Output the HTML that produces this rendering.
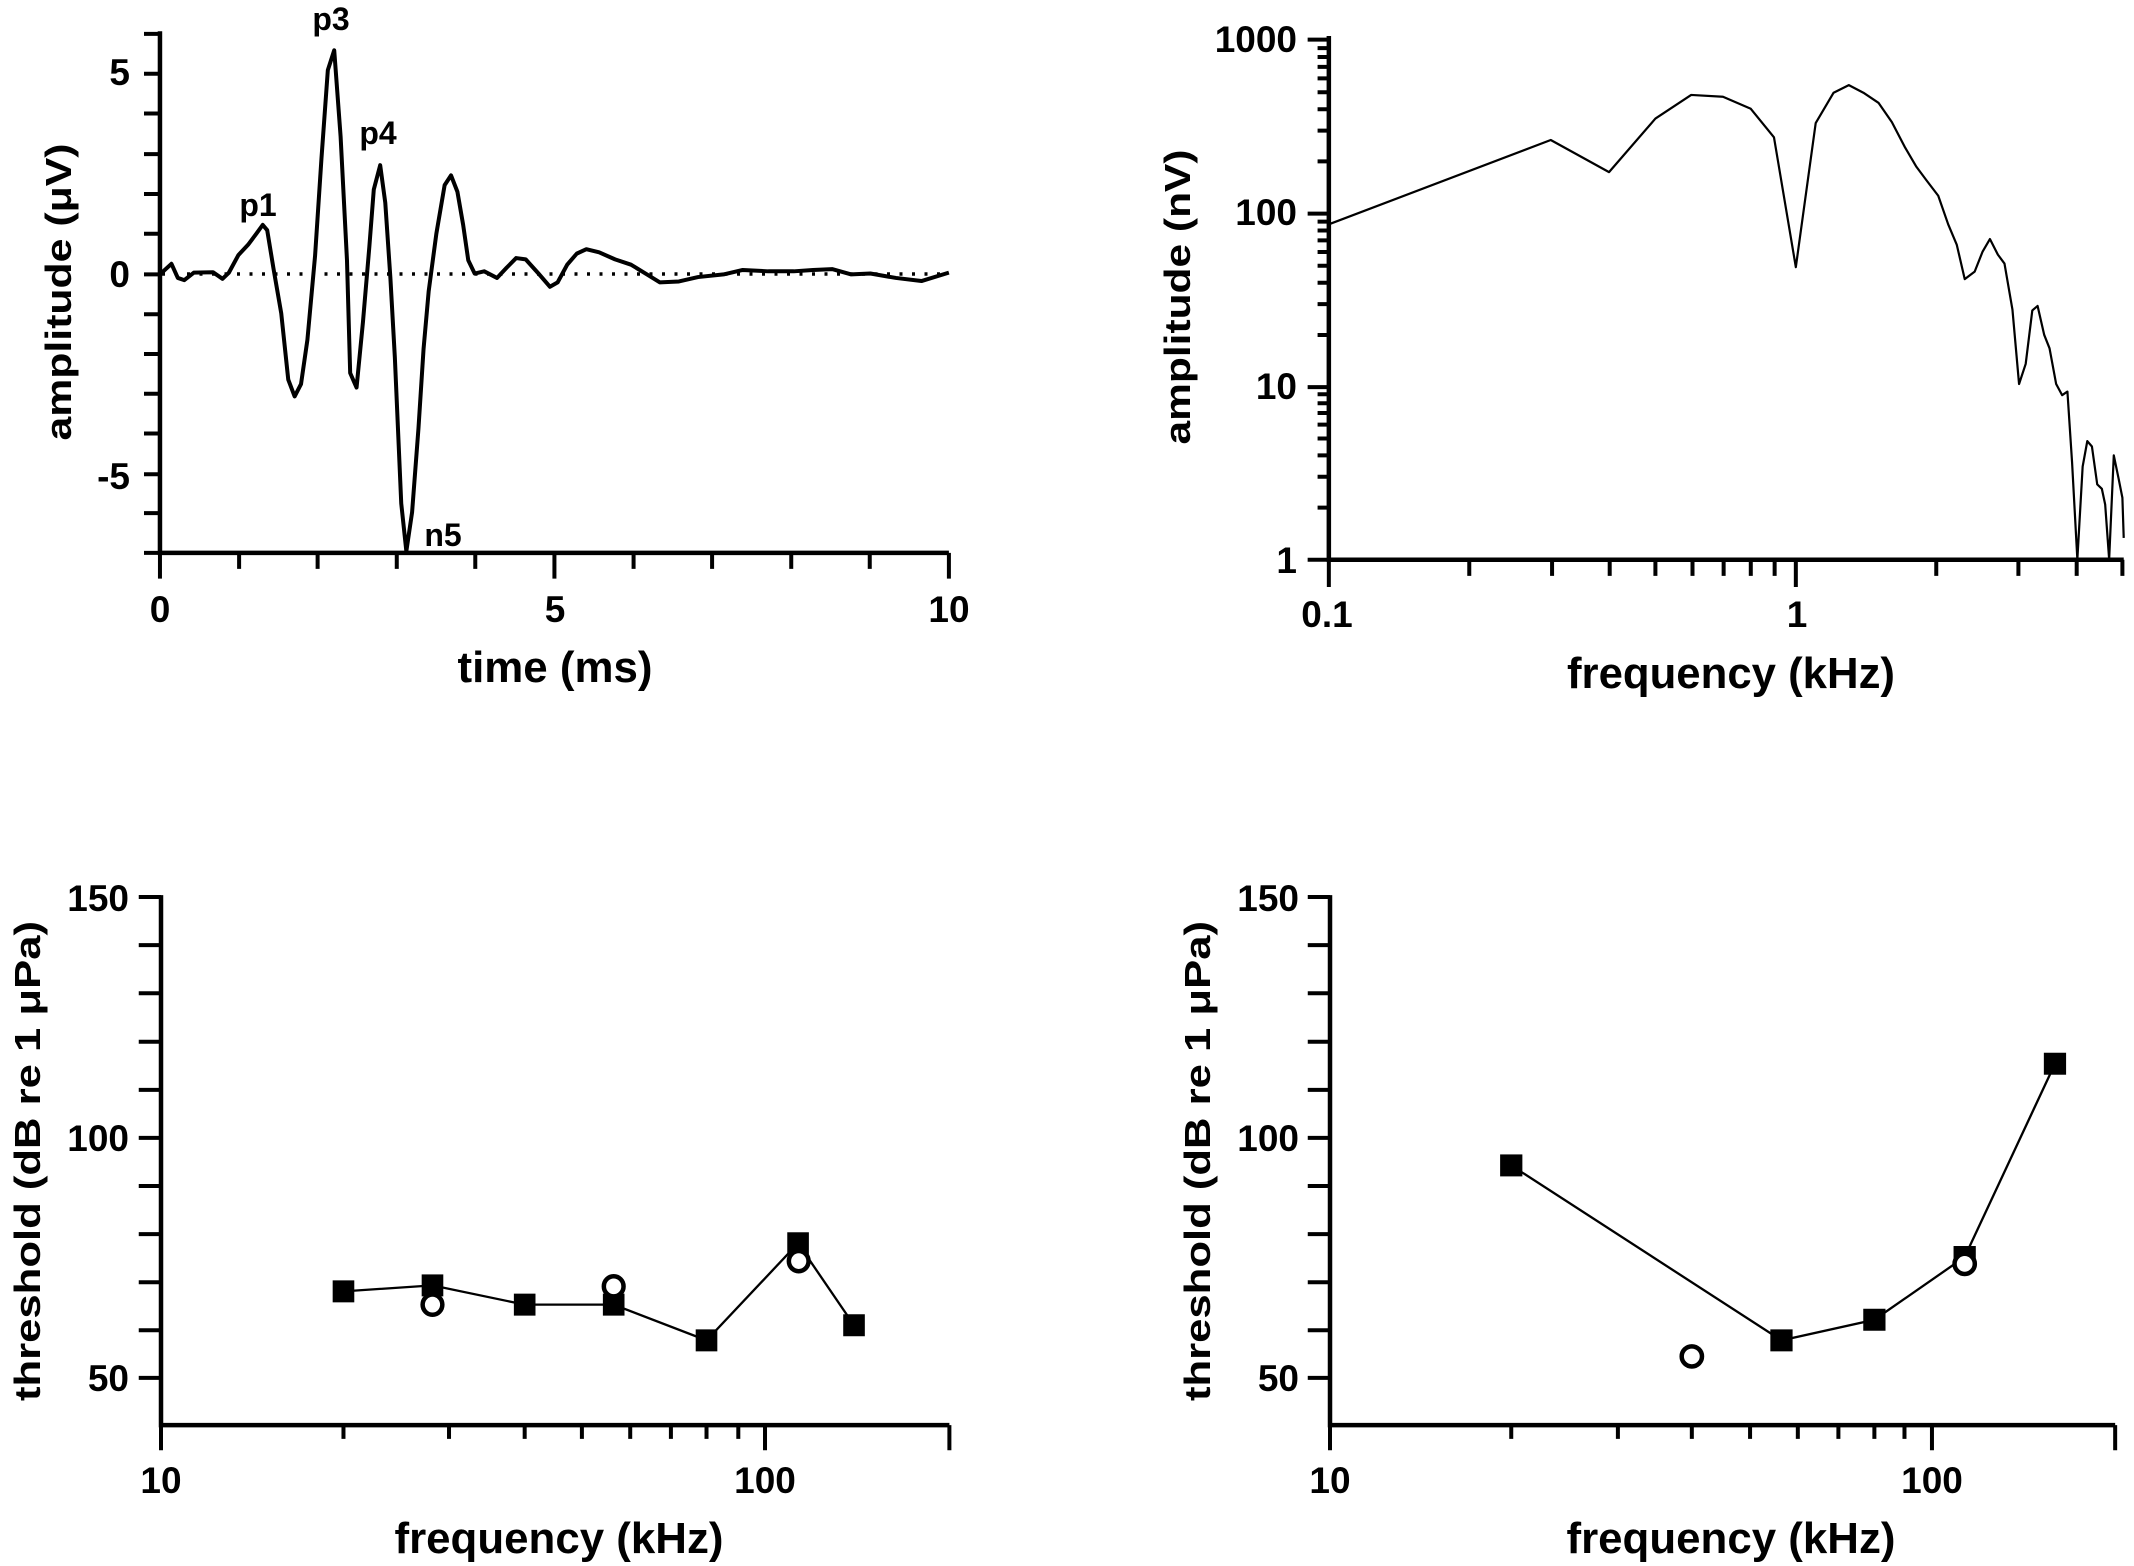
<!DOCTYPE html>
<html><head><meta charset="utf-8"><style>
html,body{margin:0;padding:0;background:#fff;}
svg{display:block;}
.t{font-family:"Liberation Sans",sans-serif;font-weight:bold;font-size:37px;fill:#000;}
.ti{font-family:"Liberation Sans",sans-serif;font-weight:bold;font-size:44px;fill:#000;}
.yl{font-family:"Liberation Sans",sans-serif;font-weight:bold;font-size:36px;fill:#000;}
.an{font-family:"Liberation Sans",sans-serif;font-weight:bold;font-size:32px;fill:#000;}
</style></head><body>
<svg width="2134" height="1566" viewBox="0 0 2134 1566" xmlns="http://www.w3.org/2000/svg">
<rect width="2134" height="1566" fill="#fff"/>

<!-- TOP LEFT -->
<g transform="translate(2.3,3.84) scale(0.6383,0.4421)" fill="none" stroke="#000">
 <path vector-effect="non-scaling-stroke" stroke-width="4.5" d="M247,62 V1242 H1483"/>
 <path vector-effect="non-scaling-stroke" stroke-width="4" d="M222,68H247 M222,158H247 M222,248H247 M222,340H247 M222,430H247 M222,520H247 M222,612H247 M222,702H247 M222,792H247 M222,882H247 M222,972H247 M222,1064H247 M222,1152H247 M222,1242H247
 M247,1242V1300 M371,1242V1278 M494,1242V1278 M618,1242V1278 M741,1242V1278 M865,1242V1300 M989,1242V1278 M1112,1242V1278 M1236,1242V1278 M1359,1242V1278 M1483,1242V1300"/>
 <polyline vector-effect="non-scaling-stroke" stroke-width="4" stroke-linejoin="round" points="247,612 265,588 275,620 285,625 300,608 330,607 345,622 355,608 370,568 385,545 398,520 408,500 415,512 425,600 437,700 448,850 458,888 468,860 478,760 490,570 500,350 510,150 520,105 530,300 540,580 545,835 555,868 565,720 575,550 582,420 592,365 600,450 608,620 615,800 625,1130 633,1238 642,1150 652,960 660,780 668,650 680,520 693,410 703,388 713,425 722,500 730,580 740,610 755,605 775,620 790,597 805,575 820,578 840,610 858,640 870,630 885,590 900,565 915,555 935,562 960,578 985,590 1010,612 1030,630 1060,628 1090,618 1130,612 1160,602 1200,605 1240,605 1270,602 1300,600 1330,612 1360,610 1400,620 1440,627 1483,608"/>
</g>
<line x1="162" y1="274" x2="949" y2="274" stroke="#000" stroke-width="3.5" stroke-dasharray="3 9.5"/>
<text class="t" x="130" y="85" text-anchor="end">5</text>
<text class="t" x="130" y="287" text-anchor="end">0</text>
<text class="t" x="130" y="489" text-anchor="end">-5</text>
<text class="t" x="160" y="622" text-anchor="middle">0</text>
<text class="t" x="555" y="622" text-anchor="middle">5</text>
<text class="t" x="949" y="622" text-anchor="middle">10</text>
<text class="ti" x="555" y="682" text-anchor="middle" textLength="195" lengthAdjust="spacingAndGlyphs">time (ms)</text>
<text class="yl" transform="translate(71,292) rotate(-90)" text-anchor="middle" textLength="297" lengthAdjust="spacingAndGlyphs">amplitude (μV)</text>
<text class="an" x="258" y="216" text-anchor="middle">p1</text>
<text class="an" x="331" y="30" text-anchor="middle">p3</text>
<text class="an" x="378" y="144" text-anchor="middle">p4</text>
<text class="an" x="443" y="546" text-anchor="middle">n5</text>

<!-- TOP RIGHT -->
<g transform="translate(1097,2.6) scale(0.6624,0.4461)" fill="none" stroke="#000">
 <path vector-effect="non-scaling-stroke" stroke-width="4.5" d="M350,75 V1249 H1550"/>
 <path vector-effect="non-scaling-stroke" stroke-width="4" d="M318,83H350 M318,473H350 M318,862H350 M318,1249H350
 M333,1132H350 M333,1063H350 M333,1015H350 M333,977H350 M333,946H350 M333,920H350 M333,898H350 M333,878H350
 M333,745H350 M333,676H350 M333,628H350 M333,590H350 M333,559H350 M333,533H350 M333,511H350 M333,491H350
 M333,356H350 M333,287H350 M333,239H350 M333,201H350 M333,170H350 M333,144H350 M333,122H350 M333,102H350
 M350,1249V1310 M1055,1249V1310 M562,1249V1285 M687,1249V1285 M774,1249V1285 M843,1249V1285 M899,1249V1285 M946,1249V1285 M987,1249V1285 M1023,1249V1285 M1267,1249V1285 M1391,1249V1285 M1479,1249V1285 M1548,1249V1285"/>
 <polyline vector-effect="non-scaling-stroke" stroke-width="2.2" stroke-linejoin="round" points="350,497 685,308 773,380 843,260 897,207 945,211 987,238 1022,302 1055,593 1085,270 1112,202 1135,185 1157,202 1180,225 1200,268 1220,325 1237,368 1252,398 1270,433 1285,497 1298,543 1310,620 1325,603 1337,558 1348,530 1360,565 1370,585 1382,688 1392,855 1402,810 1412,690 1420,680 1430,745 1438,775 1448,855 1457,880 1465,872 1472,1030 1480,1248 1488,1040 1495,983 1502,995 1510,1080 1517,1090 1522,1125 1528,1248 1535,1015 1542,1065 1548,1110 1550,1200"/>
</g>
<text class="t" x="1297" y="52" text-anchor="end">1000</text>
<text class="t" x="1297" y="225" text-anchor="end">100</text>
<text class="t" x="1297" y="399" text-anchor="end">10</text>
<text class="t" x="1297" y="573" text-anchor="end">1</text>
<text class="t" x="1327" y="627" text-anchor="middle">0.1</text>
<text class="t" x="1797" y="627" text-anchor="middle">1</text>
<text class="ti" x="1731" y="688" text-anchor="middle" textLength="328" lengthAdjust="spacingAndGlyphs">frequency (kHz)</text>
<text class="yl" transform="translate(1190,297) rotate(-90)" text-anchor="middle" textLength="295" lengthAdjust="spacingAndGlyphs">amplitude (nV)</text>

<!-- BOTTOM LEFT -->
<g transform="translate(2.05,850.3) scale(0.6358,0.458)" stroke="#000">
 <path fill="none" vector-effect="non-scaling-stroke" stroke-width="4.5" d="M250,98 V1255 H1490"/>
 <path fill="none" vector-effect="non-scaling-stroke" stroke-width="4" d="M215,102H250 M215,207H250 M215,312H250 M215,418H250 M215,523H250 M215,628H250 M215,733H250 M215,838H250 M215,943H250 M215,1048H250 M215,1152H250
 M250,1255V1310 M1200,1255V1310 M537,1255V1285 M703,1255V1285 M822,1255V1285 M912,1255V1285 M988,1255V1285 M1052,1255V1285 M1108,1255V1285 M1158,1255V1285 M1490,1255V1310"/>
 <polyline fill="none" vector-effect="non-scaling-stroke" stroke-width="2.3" points="537,963 677,950 822,992 962,992 1108,1070 1252,858 1340,1037"/>
 <g fill="#000" stroke="none">
  <rect x="520" y="939" width="34" height="48"/><rect x="660" y="926" width="34" height="48"/><rect x="805" y="968" width="34" height="48"/><rect x="945" y="968" width="34" height="48"/><rect x="1091" y="1046" width="34" height="48"/><rect x="1235" y="834" width="34" height="48"/><rect x="1323" y="1013" width="34" height="48"/>
 </g>
 <g fill="#fff" stroke-width="4.5">
  <ellipse vector-effect="non-scaling-stroke" cx="677" cy="992" rx="15.5" ry="22"/>
  <ellipse vector-effect="non-scaling-stroke" cx="962" cy="952" rx="15.5" ry="22"/>
  <ellipse vector-effect="non-scaling-stroke" cx="1253" cy="897" rx="15.5" ry="22"/>
 </g>
</g>
<text class="t" x="129" y="911" text-anchor="end">150</text>
<text class="t" x="129" y="1151" text-anchor="end">100</text>
<text class="t" x="129" y="1391" text-anchor="end">50</text>
<text class="t" x="161" y="1493" text-anchor="middle">10</text>
<text class="t" x="765" y="1493" text-anchor="middle">100</text>
<text class="ti" x="559" y="1553" text-anchor="middle" textLength="329" lengthAdjust="spacingAndGlyphs">frequency (kHz)</text>
<text class="yl" transform="translate(40,1161) rotate(-90)" text-anchor="middle" textLength="480" lengthAdjust="spacingAndGlyphs">threshold (dB re 1 μPa)</text>

<!-- BOTTOM RIGHT -->
<g transform="translate(1101,850.3) scale(0.6543,0.458)" stroke="#000">
 <path fill="none" vector-effect="non-scaling-stroke" stroke-width="4.5" d="M350,98 V1255 H1550"/>
 <path fill="none" vector-effect="non-scaling-stroke" stroke-width="4" d="M316,102H350 M316,207H350 M316,312H350 M316,418H350 M316,523H350 M316,628H350 M316,733H350 M316,838H350 M316,943H350 M316,1048H350 M316,1152H350
 M350,1255V1310 M1270,1255V1310 M627,1255V1285 M790,1255V1285 M903,1255V1285 M992,1255V1285 M1065,1255V1285 M1127,1255V1285 M1182,1255V1285 M1228,1255V1285 M1550,1255V1310"/>
 <polyline fill="none" vector-effect="non-scaling-stroke" stroke-width="2.3" points="627,688 1040,1070 1182,1025 1320,888 1458,466"/>
 <g fill="#000" stroke="none">
  <rect x="610" y="664" width="34" height="48"/><rect x="1023" y="1046" width="34" height="48"/><rect x="1165" y="1001" width="34" height="48"/><rect x="1303" y="864" width="34" height="48"/><rect x="1441" y="442" width="34" height="48"/>
 </g>
 <g fill="#fff" stroke-width="4.5">
  <ellipse vector-effect="non-scaling-stroke" cx="903" cy="1105" rx="15.5" ry="22"/>
  <ellipse vector-effect="non-scaling-stroke" cx="1320" cy="903" rx="15.5" ry="22"/>
 </g>
</g>
<text class="t" x="1299" y="911" text-anchor="end">150</text>
<text class="t" x="1299" y="1151" text-anchor="end">100</text>
<text class="t" x="1299" y="1391" text-anchor="end">50</text>
<text class="t" x="1330" y="1493" text-anchor="middle">10</text>
<text class="t" x="1932" y="1493" text-anchor="middle">100</text>
<text class="ti" x="1731" y="1553" text-anchor="middle" textLength="329" lengthAdjust="spacingAndGlyphs">frequency (kHz)</text>
<text class="yl" transform="translate(1210,1161) rotate(-90)" text-anchor="middle" textLength="480" lengthAdjust="spacingAndGlyphs">threshold (dB re 1 μPa)</text>
</svg>
</body></html>
